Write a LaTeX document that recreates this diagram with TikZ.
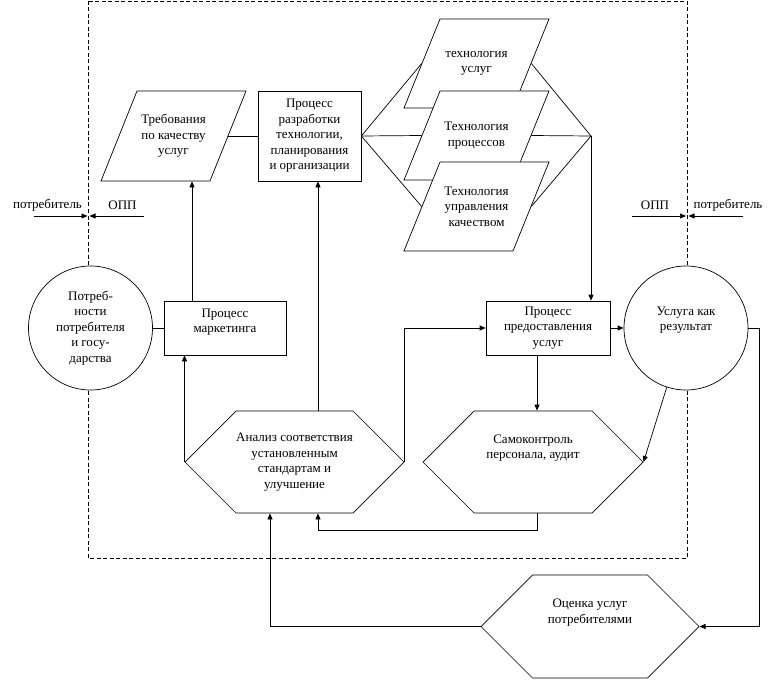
\documentclass[tikz,border=0pt]{standalone}
\usepackage{fontspec}
\setmainfont{Liberation Serif}
\usetikzlibrary{arrows.meta,shapes.symbols}

\begin{document}
\begin{tikzpicture}[x=1pt, y=-1pt, line width=0.7pt,
  every node/.style={font=\fontsize{13}{15.5}\selectfont, align=center, inner sep=0pt},
  box/.style={draw, rectangle},
  slantbox/.style={rectangle, minimum width=109pt, minimum height=89pt},
  hexa/.style={draw, signal, signal to=west and east, signal pointer angle=90, minimum width=219pt, minimum height=102pt},
  roundnode/.style={draw, circle, fill=white, minimum size=124pt},
  arr/.style={-{Triangle[length=6pt, width=5pt]}}]
  \useasboundingbox (0,0) rectangle (782,682);

  % Organisation boundary
  \draw[dash pattern=on 4pt off 2.5pt] (88,1) rectangle (687,558);

  % Circles on the boundary
  \node[roundnode] (need) at (90.5,328) {Потреб-\\ности\\потребителя\\и госу-\\дарства};
  \node[roundnode, text depth=19pt] (res) at (686,328) {Услуга как\\результат};

  % Requirements and technologies (parallelograms)
  \draw[fill=white] (137,91) -- (246,91) -- (210,181) -- (101,181) -- cycle;
  \node[slantbox, minimum height=90pt] (req) at (173.5,136) {Требования\\по качеству\\услуг};
  \draw[fill=white] (440,19) -- (549,19) -- (513,108) -- (404,108) -- cycle;
  \node[slantbox] (tus) at (476.5,63.5) {технология\\услуг};
  \draw[fill=white] (440,91) -- (549,91) -- (513,180) -- (404,180) -- cycle;
  \node[slantbox] (tpr) at (476.5,135.5) {Технология\\процессов};
  \draw[fill=white] (440,162) -- (549,162) -- (513,251) -- (404,251) -- cycle;
  \node[slantbox] (tuk) at (476.5,206.5) {Технология\\управления\\качеством};
  \coordinate (jn) at (591,136);

  % Process boxes
  \node[box, minimum width=103pt, minimum height=90pt] (dev) at (309.5,136) {Процесс\\разработки\\технологии,\\планирования\\и организации};
  \node[box, minimum width=122pt, minimum height=54pt, text depth=15pt] (mkt) at (225,328) {Процесс\\маркетинга};
  \node[box, minimum width=124pt, minimum height=54pt] (srv) at (548,328) {Процесс\\предоставления\\услуг};

  % Hexagons
  \node[hexa] (an) at (294.5,462) {Анализ соответствия\\установленным\\стандартам и\\улучшение};
  \node[hexa, minimum width=220pt, text depth=31pt] (sk) at (533,462) {Самоконтроль\\персонала, аудит};
  \node[hexa, minimum width=218pt, minimum height=103pt, text depth=31pt] (oc) at (590,626.5) {Оценка услуг\\потребителями};

  % Links
  \draw (need.east) -- (mkt.west);
  \draw[arr] ([xshift=-33pt]mkt.north) -- ([xshift=-33pt]mkt.north |- req.south);
  \draw (req.east) -- (dev.west);
  \draw[arr] ([xshift=23.5pt]an.north) -- ([xshift=23.5pt]an.north |- dev.south);
  \draw (dev.east) -- (tus.west);
  \draw (dev.east) -- (tpr.west);
  \draw (dev.east) -- (tuk.west);
  \draw (tus.east) -- (jn);
  \draw (tpr.east) -- (jn);
  \draw (tuk.east) -- (jn);
  \draw[arr] (jn) -- (jn |- srv.north);
  \draw[arr] (an.west) -- (an.west |- mkt.south);
  \draw[arr] (an.east) |- (srv.west);
  \draw[arr] ([xshift=-11pt]srv.south) -- ([xshift=-11pt]srv.south |- sk.north);
  \draw[arr] ([xshift=4pt]sk.south) -- ++(0,17) -| ([xshift=23.5pt]an.south);
  \draw[arr] (srv.east) -- (res.west);
  \draw[arr] (res.252) -- (sk.east);
  \draw[arr] (res.east) -- ++(11,0) |- (oc.east);
  \draw[arr] (oc.west) -| ([xshift=-24.5pt]an.south);

  % Consumer / organisation boundary marks
  \node (cl) at (47.5,205) {потребитель};
  \node (ol) at (122.5,205) {ОПП};
  \node (or) at (655,205) {ОПП};
  \node (cr) at (728,205) {потребитель};
  \coordinate (cl0) at (34,216);
  \coordinate (ol0) at (144,216);
  \coordinate (or0) at (632,216);
  \coordinate (cr0) at (743,216);
  \draw[arr] (cl0) -- (87.5,216);
  \draw[arr] (ol0) -- (89.5,216);
  \draw[arr] (or0) -- (686,216);
  \draw[arr] (cr0) -- (688.5,216);
\end{tikzpicture}
\end{document}
